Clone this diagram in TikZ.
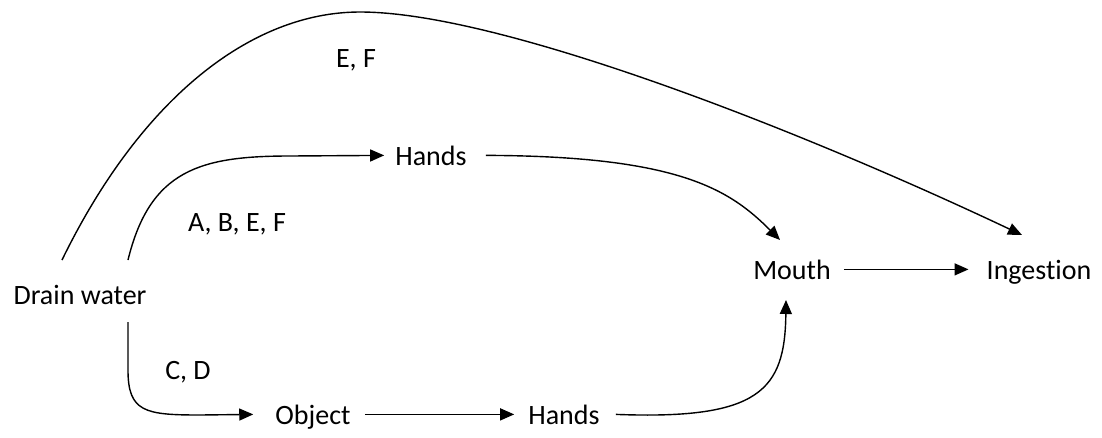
\documentclass[tikz,border=0pt]{standalone}
\usepackage{fontspec}
\setmainfont{Carlito}[Ligatures=NoCommon]
\usetikzlibrary{arrows.meta}
\tikzset{
  lbl/.style={inner sep=0pt, anchor=base, font=\fontsize{28}{31}\selectfont},
  arr/.style={line width=1.4pt, -{Triangle[length=14pt,width=12pt]}},
}
\begin{document}
\begin{tikzpicture}[x=1pt,y=-1pt]
\useasboundingbox (0,0) rectangle (1102,437);
\node[lbl] (drain) at (80,304) {Drain water};
\node[lbl] (hands1) at (431,165) {Hands};
\node[lbl] (mouth) at (792,279) {Mouth};
\node[lbl] (ing) at (1039,279) {Ingestion};
\node[lbl] (obj) at (313,424) {Object};
\node[lbl] (hands2) at (564,424) {Hands};
\node[lbl] (lef) at (356,67) {E, F};
\node[lbl] (labef) at (237,231) {A, B, E, F};
\node[lbl] (lcd) at (188,379) {C, D};

% E, F big curve
\draw[arr] ([shift={(-18,-44)}]drain.base) .. controls (140,100) and (250,12) .. (360,12)
  .. controls (500,12) and (800,130) .. ([shift={(-17,-44)}]ing.base);
% A, B, E, F
\draw[arr] ([shift={(48,-44)}]drain.base) .. controls (150,170) and (200,156) .. (290,156)
  -- ([xshift=-11pt]hands1.west);
% C, D
\draw[arr] ([shift={(48,18)}]drain.base) -- (128,370) .. controls (128,412) and (145,415) .. (200,415)
  -- ([xshift=-22pt]obj.west |- hands2.west);
\draw[arr] ([xshift=19pt]hands1.east) .. controls (680,156) and (730,190) .. ([shift={(-12,-39)}]mouth.base);
\draw[arr] ([xshift=14pt]obj.east |- hands2.west) -- ([xshift=-14pt]hands2.west);
\draw[arr] ([xshift=16pt]hands2.east) .. controls (760,420) and (785,390) .. ([shift={(-6,21)}]mouth.base);
\draw[arr] ([xshift=13pt]mouth.east) -- ([xshift=-18pt]ing.west |- mouth.east);
\end{tikzpicture}
\end{document}
